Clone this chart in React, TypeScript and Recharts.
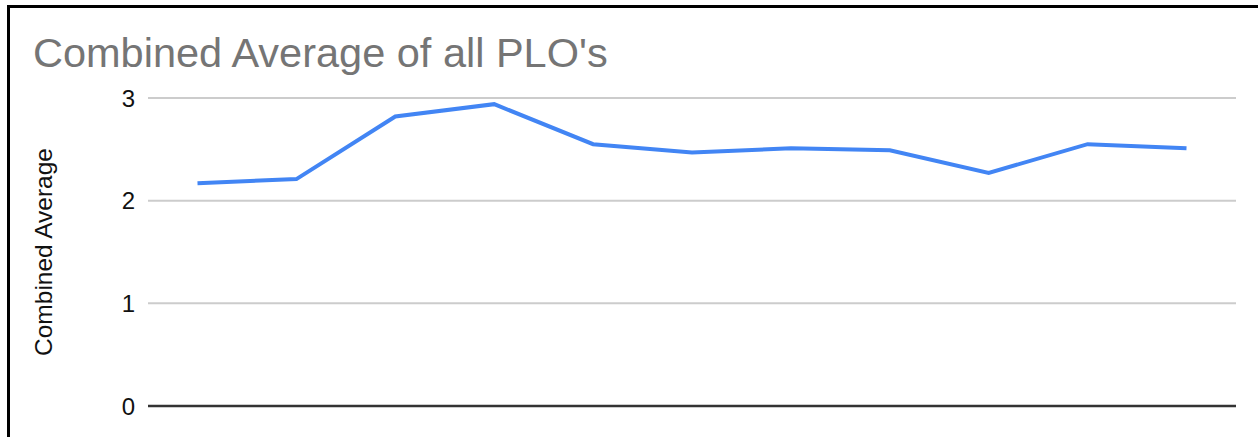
import { LineChart, Line, XAxis, YAxis, CartesianGrid } from 'recharts';

// categories are not labelled in the picture
const categories = ['1', '2', '3', '4', '5', '6', '7', '8', '9', '10', '11'];
const combinedAverage = [2.17, 2.21, 2.82, 2.94, 2.55, 2.47, 2.51, 2.49, 2.27, 2.55, 2.51];
const yTicks = [0, 1, 2, 3];

const data = categories.map((c, i) => ({ name: c, value: combinedAverage[i] }));

const font = '"Liberation Sans", Arial, sans-serif';

function AxisTitle({ viewBox }: any) {
    const cx = viewBox.x + 51.5;
    const cy = viewBox.y + viewBox.height / 2;
    return (
        <text
            x={cx}
            y={cy}
            transform={`rotate(-90 ${cx} ${cy})`}
            textAnchor="middle"
            fontFamily={font}
            fontSize={24.5}
            fill="#111"
        >
            Combined Average
        </text>
    );
}

export default function App() {
    return (
        <div style={{ position: 'absolute', left: 0, top: 0, width: 1258, height: 437, overflow: 'hidden', background: '#fff' }}>
            {/* frame, only top and left edges are visible */}
            <div
                style={{
                    position: 'absolute',
                    left: 7,
                    top: 5,
                    width: 1400,
                    height: 600,
                    boxSizing: 'border-box',
                    borderTop: '3px solid #000',
                    borderLeft: '3px solid #000',
                }}
            />
            <div
                style={{
                    position: 'absolute',
                    left: 33,
                    top: 32,
                    fontFamily: font,
                    fontSize: 41.5,
                    lineHeight: '41px',
                    color: '#757575',
                    whiteSpace: 'nowrap',
                }}
            >
                Combined Average of all PLO's
            </div>
            <div style={{ position: 'absolute', left: 0, top: 0 }}>
                <LineChart width={1258} height={437} data={data} margin={{ top: 98, right: 22, bottom: 0, left: 0 }}>
                    <CartesianGrid vertical={false} stroke="#cccccc" strokeWidth={2} />
                    <XAxis
                        dataKey="name"
                        height={31}
                        tick={false}
                        tickLine={false}
                        padding={{ left: 49.5, right: 49.5 }}
                        axisLine={{ stroke: '#333', strokeWidth: 2.5 }}
                    />
                    <YAxis
                        width={148}
                        domain={[0, 3]}
                        ticks={yTicks}
                        axisLine={false}
                        tickLine={false}
                        tickSize={0}
                        tickMargin={13}
                        tick={{ fill: '#111', fontSize: 24, fontFamily: font }}
                        label={<AxisTitle />}
                    />
                    <Line
                        type="linear"
                        dataKey="value"
                        stroke="#4285F4"
                        strokeWidth={4}
                        dot={false}
                        activeDot={false}
                        isAnimationActive={false}
                    />
                </LineChart>
            </div>
        </div>
    );
}
